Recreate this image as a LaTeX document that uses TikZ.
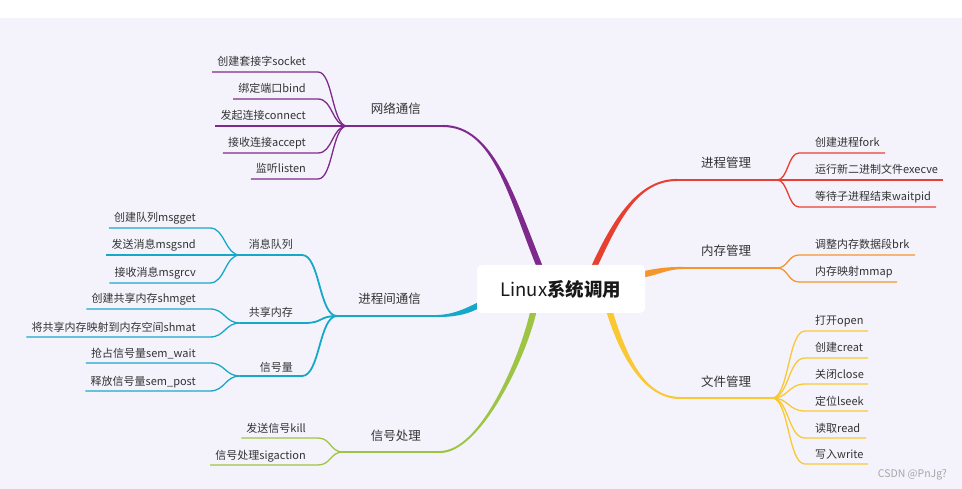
\documentclass[tikz,border=0pt]{standalone}
\usepackage{fontspec}
\setmainfont{Noto Sans CJK SC}
\usetikzlibrary{calc}
\definecolor{bgc}{RGB}{244,243,252}
\definecolor{txt}{RGB}{51,51,51}
\definecolor{purp}{RGB}{126,42,140}
\definecolor{cyanc}{RGB}{23,168,200}
\definecolor{greenc}{RGB}{158,196,68}
\definecolor{redc}{RGB}{232,64,48}
\definecolor{orangec}{RGB}{245,150,45}
\definecolor{yellowc}{RGB}{250,200,50}
\tikzset{
  ctext/.style={font=\fontsize{11}{13}\selectfont, text=txt, inner sep=0pt},
  ltext/.style={font=\fontsize{12.5}{15}\selectfont, text=txt, inner sep=0pt},
  stext/.style={font=\fontsize{11}{13}\selectfont, text=txt, inner sep=0pt},
  cline/.style={line width=1.3pt},
  sline/.style={line width=1.8pt},
  mline/.style={line width=2.1pt},
  rootbox/.style={fill=white, rounded corners=5pt, minimum width=168pt, minimum height=48pt, inner sep=0pt,
    font=\fontsize{18.5}{22}\selectfont, text=black!90},
}
% left child: name, colour, fan, line right x, y, text
\newcommand\Lchild[6]{%
  \node[ctext, anchor=base east] (#1) at ({#4-\gapL}, {#5-6}) {#6};
  \coordinate (#1r) at (#4, #5);
  \coordinate (#1l) at ($(#1.base west)+(-5,6)$);
  \draw[cline, #2] (#3) .. controls +(-\kk,0) and +(\kk,0) .. (#1r) -- (#1l);
}
% right child: name, colour, fan, line left x, y, line right x, text
\newcommand\Rchild[7]{%
  \node[ctext, anchor=base west] (#1) at (815, {#5-6}) {#7};
  \coordinate (#1l) at (#4, #5);
  \coordinate (#1r) at (#6, #5);
  \draw[cline, #2] (#3) .. controls +(\kk,0) and +(-\kk,0) .. (#1l) -- (#1r);
}
% tapered main branch: colour, P0, C1, C2, P3, offset0, offset1
\newcommand\Taper[7]{%
  \fill[#1] ($#2+#6$) .. controls ($#3+#6$) and ($#4+#7$) .. ($#5+#7$)
     -- ($#5-#7$) .. controls ($#4-#7$) and ($#3-#6$) .. ($#2-#6$) -- cycle;
}
\begin{document}
\begin{tikzpicture}[x=1pt, y=-1pt]
\useasboundingbox (0,0) rectangle (962,489);
\fill[white] (0,0) rectangle (962,18);
\fill[bgc] (0,18) rectangle (962,489);

% ---------- purple: 网络通信 ----------
\coordinate (ps) at (539,265); \coordinate (pe) at (443,126); \coordinate (pf) at (347,126);
\Taper{purp}{(ps)}{(511,195)}{(493,126)}{(pe)}{(-3.2,0)}{(0,1.05)}
\draw[mline, purp] (pe) -- (pf);
\node[ltext, anchor=base east] (net) at (421,114) {网络通信};
\def\kk{15}\def\gapL{12}
\Lchild{socket}{purp}{pf}{318}{72}{创建套接字socket}
\Lchild{bind}{purp}{pf}{318}{99}{绑定端口bind}
\Lchild{connect}{purp}{pf}{318}{126}{发起连接connect}
\Lchild{accept}{purp}{pf}{318}{153}{接收连接accept}
\Lchild{listen}{purp}{pf}{318}{179}{监听listen}

% ---------- cyan: 进程间通信 ----------
\coordinate (cs) at (477,306); \coordinate (ce) at (437,316); \coordinate (cf) at (337,316);
\Taper{cyanc}{(cs)}{(465,312)}{(452,316)}{(ce)}{(0,3.2)}{(0,1.05)}
\draw[mline, cyanc] (ce) -- (cf);
\node[ltext, anchor=base east] (ipc) at (421,304) {进程间通信};
% sub-branches
\coordinate (mqe) at (302,255); \coordinate (mqf) at (240,255);
\coordinate (sme) at (305,323); \coordinate (smf) at (240,323);
\coordinate (see) at (302,376); \coordinate (sef) at (240,376);
\draw[sline, cyanc] (cf) .. controls +(-18,0) and +(18,0) .. (mqe) -- (mqf);
\draw[sline, cyanc] (cf) .. controls +(-18,0) and +(18,0) .. (sme) -- (smf);
\draw[sline, cyanc] (cf) .. controls +(-18,0) and +(18,0) .. (see) -- (sef);
\node[stext, anchor=base east] (mq) at (293,249) {消息队列};
\node[stext, anchor=base east] (sm) at (293,317) {共享内存};
\node[stext, anchor=base east] (se) at (293,371) {信号量};
\def\kk{15}\def\gapL{14}
\Lchild{msgget}{cyanc}{mqf}{210}{228}{创建队列msgget}
\Lchild{msgsnd}{cyanc}{mqf}{210}{255}{发送消息msgsnd}
\Lchild{msgrcv}{cyanc}{mqf}{210}{283}{接收消息msgrcv}
\Lchild{shmget}{cyanc}{smf}{210}{309}{创建共享内存shmget}
\Lchild{shmat}{cyanc}{smf}{210}{337}{将共享内存映射到内存空间shmat}
\Lchild{semwait}{cyanc}{sef}{210}{363}{抢占信号量sem\_wait}
\Lchild{sempost}{cyanc}{sef}{210}{391}{释放信号量sem\_post}

% ---------- green: 信号处理 ----------
\coordinate (gs) at (533,313); \coordinate (ge) at (440,452); \coordinate (gf) at (343,452);
\Taper{greenc}{(gs)}{(522,360)}{(480,452)}{(ge)}{(3.2,0)}{(0,1.05)}
\draw[mline, greenc] (ge) -- (gf);
\node[ltext, anchor=base east] (sig) at (421,440) {信号处理};
\def\kk{13}\def\gapL{12}
\Lchild{kill}{greenc}{gf}{318}{438}{发送信号kill}
\Lchild{sigaction}{greenc}{gf}{318}{465}{信号处理sigaction}

% ---------- red: 进程管理 ----------
\coordinate (rs) at (595,265); \coordinate (re) at (677,180); \coordinate (rf) at (777,180);
\Taper{redc}{(rs)}{(618,215)}{(640,180)}{(re)}{(-3.2,0)}{(0,-1.05)}
\draw[mline, redc] (re) -- (rf);
\node[ltext, anchor=base west] (proc) at (701,168) {进程管理};
\def\kk{11}
\Rchild{fork}{redc}{rf}{799}{153}{885}{创建进程fork}
\Rchild{execve}{redc}{rf}{799}{180}{943}{运行新二进制文件execve}
\Rchild{waitpid}{redc}{rf}{799}{207}{936}{等待子进程结束waitpid}

% ---------- orange: 内存管理 ----------
\coordinate (os) at (645,274); \coordinate (oe) at (683,268); \coordinate (of) at (777,268);
\Taper{orangec}{(os)}{(660,271)}{(668,268)}{(oe)}{(0,-3.2)}{(0,-1.05)}
\draw[mline, orangec] (oe) -- (of);
\node[ltext, anchor=base west] (mem) at (701,256) {内存管理};
\Rchild{brk}{orangec}{of}{799}{255}{915}{调整内存数据段brk}
\Rchild{mmap}{orangec}{of}{799}{282}{897}{内存映射mmap}

% ---------- yellow: 文件管理 ----------
\coordinate (ys) at (610,313); \coordinate (ye) at (680,398); \coordinate (yf) at (772,398);
\Taper{yellowc}{(ys)}{(624,358)}{(645,398)}{(ye)}{(3.2,0)}{(0,-1.05)}
\draw[mline, yellowc] (ye) -- (yf);
\node[ltext, anchor=base west] (file) at (701,386) {文件管理};
\def\kk{17}
\Rchild{open}{yellowc}{yf}{805}{331}{868}{打开open}
\Rchild{creat}{yellowc}{yf}{805}{358}{868}{创建creat}
\Rchild{close}{yellowc}{yf}{805}{384}{868}{关闭close}
\Rchild{lseek}{yellowc}{yf}{805}{411}{868}{定位lseek}
\Rchild{read}{yellowc}{yf}{805}{438}{866}{读取read}
\Rchild{write}{yellowc}{yf}{805}{464}{868}{写入write}

% ---------- root ----------
\node[rootbox] (root) at (561,289) {Linux{\bfseries 系统调用}};

% watermark
\node[font=\fontsize{10.5}{12}\selectfont, text=black!35, inner sep=0pt, anchor=base east] (wm) at (947,477) {CSDN @PnJg?};
\end{tikzpicture}
\end{document}
